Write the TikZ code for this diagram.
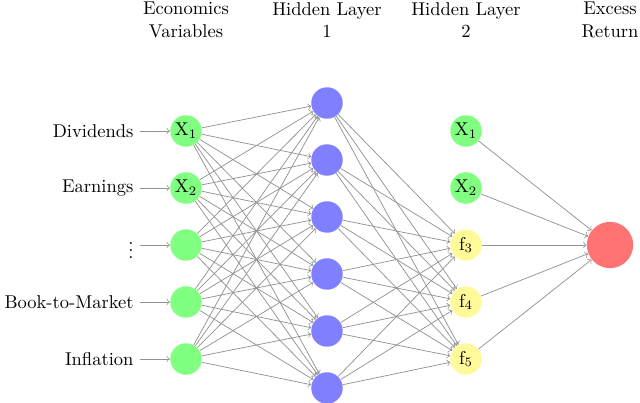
\documentclass[tikz,border=0pt]{standalone}
\begin{document}
\begin{tikzpicture}[x=0.54pt,y=-0.54pt,
 neuron/.style={circle,minimum size=17pt,inner sep=0pt},
 inp/.style={neuron,fill=green!50},
 hid/.style={neuron,fill=blue!50},
 hid2/.style={neuron,fill=yellow!40},
 outp/.style={neuron,fill=red!55,minimum size=25pt},
 conn/.style={->,gray!85,thin,>=to},
 hdr/.style={align=center,font=\normalsize}]
\useasboundingbox (0,0) rectangle (640,403);
\foreach \i/\t in {1/X$_1$,2/X$_2$,3/,4/,5/} \node[inp] (I\i) at (186,74+57*\i) {\t};
\foreach \i in {1,...,6} \node[hid] (H\i) at (327,46+57*\i) {};
\foreach \i/\t in {1/X$_1$,2/X$_2$,3/f$_3$,4/f$_4$,5/f$_5$} \node[\ifnum\i<3 inp\else hid2\fi] (K\i) at (466,74+57*\i) {\t};
\node[outp] (O) at (610,245) {};
\foreach \i/\t in {1/Dividends,2/Earnings,3/$\vdots$,4/Book-to-Market,5/Inflation}{
 \node[anchor=east] (L\i) at (140,74+57*\i) {\t};
 \draw[conn] (L\i) -- (I\i);}
\foreach \i in {1,...,5} \foreach \j in {1,...,6} \draw[conn] (I\i) -- (H\j);
\foreach \i in {1,...,6} \foreach \j in {3,4,5} \draw[conn] (H\i) -- (K\j);
\foreach \j in {1,...,5} \draw[conn] (K\j) -- (O);
\node[hdr] (h1) at (186,20) {Economics\\Variables};
\node[hdr] (h2) at (327,20) {Hidden Layer\\1};
\node[hdr] (h3) at (466,20) {Hidden Layer\\2};
\node[hdr] (h4) at (610,20) {Excess\\Return};
\end{tikzpicture}
\end{document}
